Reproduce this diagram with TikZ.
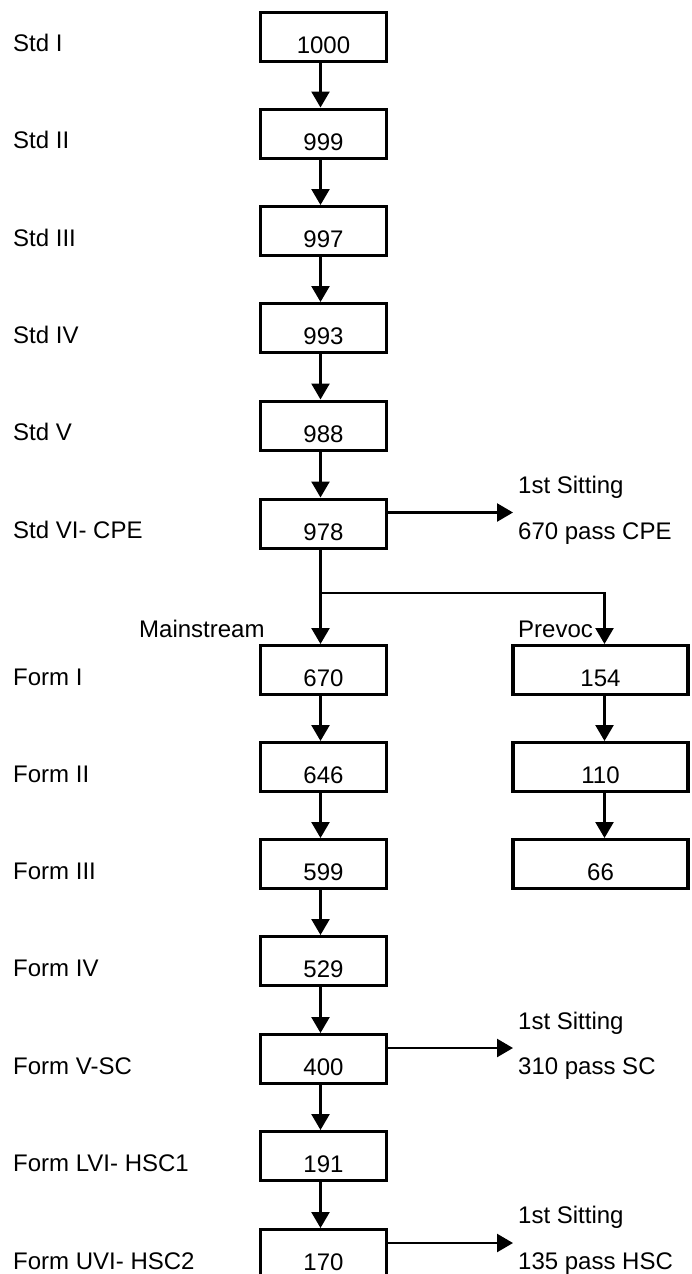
\documentclass[tikz,border=0pt]{standalone}
\usepackage{fontspec}
\setmainfont{Liberation Sans}
\usetikzlibrary{arrows.meta}
\begin{document}
\begin{tikzpicture}[x=1pt,y=-1pt,
  txt/.style={font=\fontsize{24}{28}\selectfont},
  box/.style={txt,draw,line width=3.2pt,minimum width=126pt,minimum height=49pt,
    inner sep=0pt,text height=41pt,text depth=8pt,anchor=north},
  pbox/.style={box,minimum width=175pt},
  lab/.style={txt,anchor=base west,inner sep=0pt},
  ln/.style={line width=2.5pt},
  arr/.style={ln,-{Triangle[width=18pt,length=16pt]}}]
\useasboundingbox (0,0) rectangle (692,1274);
\clip (0,0) rectangle (692,1274);
% main column
\foreach \i/\t/\v/\l in {0/10.5/1000/Std I,1/107.5/999/Std II,2/205/997/Std III,
  3/302/993/Std IV,4/399.5/988/Std V,5/497.5/978/Std VI- CPE,6/644/670/Form I,
  7/741/646/Form II,8/838/599/Form III,9/935/529/Form IV,10/1033/400/Form V-SC,
  11/1130/191/Form LVI- HSC1,12/1228/170/Form UVI- HSC2}{
  \node[box] (m\i) at (323.5,\t) {\v};
  \node[lab] (l\i) at (13,\t+41) {\l};
}
\foreach \a/\b in {0/1,1/2,2/3,3/4,4/5,5/6,6/7,7/8,8/9,9/10,10/11,11/12}{
  \draw[arr] ([xshift=-3pt]m\a.south) -- ([xshift=-3pt]m\b.north);
}
% prevoc column
\node[pbox] (p0) at (600.5,644) {154};
\node[pbox] (p1) at (600.5,741) {110};
\node[pbox] (p2) at (600.5,838) {66};
\draw[arr] ([xshift=4pt]p0.south) -- ([xshift=4pt]p1.north);
\draw[arr] ([xshift=4pt]p1.south) -- ([xshift=4pt]p2.north);
\coordinate (br) at (320.5,593);
\draw[arr] (br) -| ([xshift=4pt]p0.north);
\node[lab] (ms) at (139,637) {Mainstream};
\node[lab] (pv) at (518,637) {Prevoc};
% sittings
\coordinate (e5) at (513,512.5);
\coordinate (e10) at (513,1048);
\coordinate (e12) at (513,1243);
\draw[arr] (e5 -| m5.east) -- (e5);
\draw[arr] (e10 -| m10.east) -- (e10);
\draw[arr] (e12 -| m12.east) -- (e12);
\node[lab] (s5a) at (518,493) {1st Sitting};
\node[lab] (s5b) at (518,539) {670 pass CPE};
\node[lab] (s10a) at (518,1029) {1st Sitting};
\node[lab] (s10b) at (518,1074) {310 pass SC};
\node[lab] (s12a) at (518,1223) {1st Sitting};
\node[lab] (s12b) at (518,1269) {135 pass HSC};
\end{tikzpicture}
\end{document}
